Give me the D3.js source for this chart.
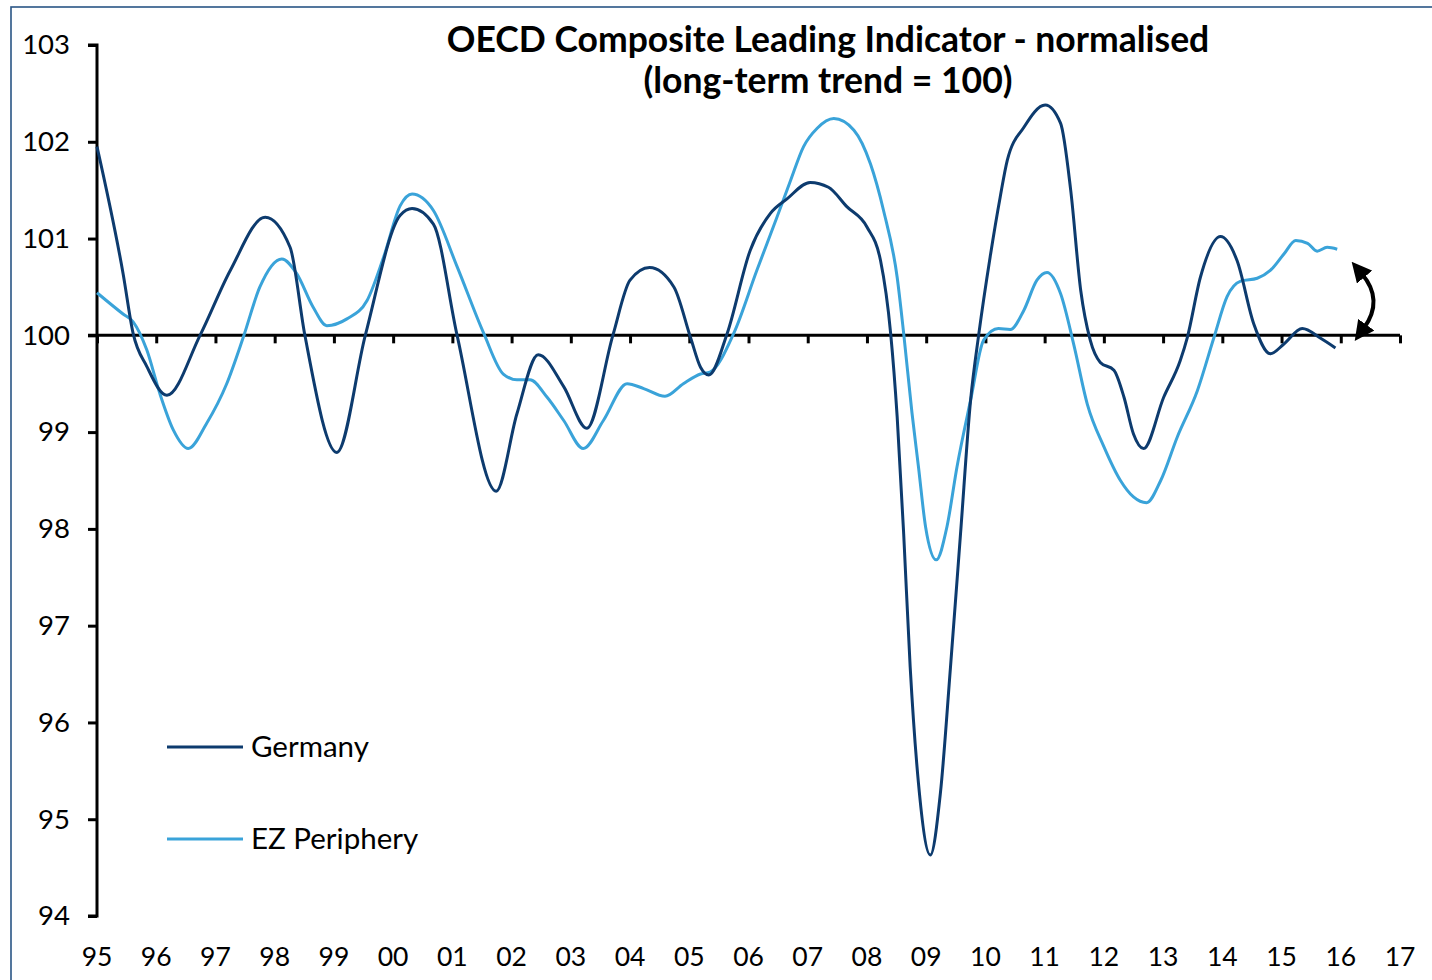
<!DOCTYPE html>
<html>
<head>
<meta charset="utf-8">
<script src="https://cdn.jsdelivr.net/npm/d3@7"></script>
<style>
  html, body { margin: 0; padding: 0; background: #fff; }
  svg { display: block; font-family: Lato, "Open Sans", sans-serif; }
</style>
</head>
<body>
<svg id="chart" width="1432" height="980"></svg>
<script>
// ---- Data (decimal years, index values) ----
const germanyDates = [1995.00,1995.44,1995.61,1995.84,1996.18,1996.74,1997.25,1997.84,1998.26,1998.51,1999.05,1999.53,2000.12,2000.32,2000.68,2001.08,2001.74,2002.09,2002.45,2002.88,2003.27,2003.71,2004.00,2004.33,2004.74,2005.02,2005.19,2005.33,2005.64,2006.03,2006.37,2006.65,2007.04,2007.35,2007.66,2008.00,2008.23,2008.40,2008.51,2008.62,2008.73,2008.87,2009.07,2009.24,2009.41,2009.58,2009.75,2009.89,2010.08,2010.25,2010.37,2010.65,2011.01,2011.27,2011.44,2011.61,2011.77,2011.94,2012.17,2012.34,2012.50,2012.67,2013.01,2013.29,2013.41,2013.63,2013.97,2014.25,2014.53,2014.81,2015.04,2015.35,2015.66,2015.91];
const germanyValues = [101.95,100.64,100.02,99.68,99.38,100.00,100.67,101.22,100.91,100.00,98.79,100.00,101.24,101.31,101.15,100.00,98.39,99.19,99.80,99.47,99.04,100.00,100.57,100.70,100.50,99.98,99.67,99.59,100.02,100.88,101.26,101.41,101.58,101.53,101.33,101.12,100.77,100.02,99.16,97.95,96.57,95.37,94.63,95.27,96.57,97.95,99.33,100.02,100.81,101.43,101.81,102.15,102.38,102.19,101.50,100.46,99.95,99.72,99.64,99.36,98.98,98.83,99.36,99.74,99.98,100.60,101.02,100.77,100.12,99.81,99.91,100.07,99.97,99.87];

const peripheryDates = [1995.00,1995.44,1995.61,1995.84,1996.06,1996.29,1996.54,1996.85,1997.19,1997.47,1997.75,1998.12,1998.37,1998.65,1998.88,1999.22,1999.56,1999.84,2000.12,2000.32,2000.68,2001.08,2001.53,2001.86,2002.09,2002.31,2002.60,2002.88,2003.21,2003.55,2003.95,2004.23,2004.59,2004.90,2005.19,2005.35,2005.75,2006.14,2006.48,2006.71,2006.93,2007.16,2007.44,2007.78,2008.06,2008.28,2008.51,2008.62,2008.76,2008.87,2008.99,2009.17,2009.35,2009.52,2009.75,2009.97,2010.22,2010.42,2010.65,2010.87,2011.04,2011.27,2011.49,2011.72,2012.00,2012.28,2012.50,2012.72,2012.96,2013.24,2013.58,2013.86,2014.08,2014.31,2014.59,2014.81,2015.04,2015.24,2015.44,2015.60,2015.77,2015.94];
const peripheryValues = [100.44,100.22,100.14,99.85,99.40,99.02,98.83,99.09,99.50,99.98,100.50,100.79,100.64,100.29,100.10,100.17,100.36,100.81,101.34,101.46,101.29,100.71,100.02,99.60,99.54,99.54,99.36,99.12,98.83,99.12,99.50,99.45,99.37,99.50,99.60,99.62,100.02,100.67,101.22,101.60,101.95,102.14,102.24,102.12,101.77,101.29,100.60,100.02,99.20,98.64,98.02,97.68,98.02,98.64,99.33,99.95,100.07,100.06,100.26,100.57,100.65,100.43,99.91,99.29,98.85,98.50,98.33,98.27,98.50,98.95,99.43,99.98,100.40,100.56,100.59,100.67,100.84,100.98,100.95,100.87,100.91,100.89];

const yTicks = [94, 95, 96, 97, 98, 99, 100, 101, 102, 103];
const xTickYears = d3.range(1995, 2018);
const xTickLabels = ["95","96","97","98","99","00","01","02","03","04","05","06","07","08","09","10","11","12","13","14","15","16","17"];
const seriesNames = ["Germany", "EZ Periphery"];
const seriesColors = ["#0d3b6e", "#3aa3d9"];
const titleLines = ["OECD Composite Leading Indicator - normalised", "(long-term trend = 100)"];

// ---- Scales ----
const svg = d3.select("#chart");
const x = d3.scaleLinear().domain([1995, 2017]).range([97, 1400]);
const y = d3.scaleLinear().domain([94, 103]).range([916, 45]);

// frame
svg.append("rect")
  .attr("x", 11).attr("y", 7).attr("width", 1440).attr("height", 1000)
  .attr("fill", "none").attr("stroke", "#2a5585").attr("stroke-width", 1.6);

// title
svg.append("text").attr("x", 828).attr("y", 52).attr("text-anchor", "middle")
  .attr("font-size", 35.5).attr("font-weight", 700).attr("fill", "#000").text(titleLines[0]);
svg.append("text").attr("x", 828).attr("y", 93).attr("text-anchor", "middle")
  .attr("font-size", 35.5).attr("font-weight", 700).attr("fill", "#000").text(titleLines[1]);

// y axis
const yAxis = d3.axisLeft(y).tickValues(yTicks).tickSize(9).tickPadding(18).tickFormat(d3.format("d"));
const gy = svg.append("g").attr("transform", "translate(97,0)").call(yAxis);
gy.select(".domain").attr("stroke", "#000").attr("stroke-width", 3).attr("d", "M-9,45H0V916H-9");
gy.selectAll(".tick line").attr("stroke", "#000").attr("stroke-width", 3);
gy.selectAll(".tick text").attr("font-size", 27.5).attr("fill", "#000").attr("font-family", "Lato, sans-serif");

// x axis at 100 line
const xAxis = d3.axisBottom(x).tickValues(xTickYears).tickSize(8).tickFormat(() => "");
const gx = svg.append("g").attr("transform", `translate(0,${y(100)})`).call(xAxis);
gx.select(".domain").attr("stroke", "#000").attr("stroke-width", 3).attr("d", `M88,0H${x(2017)}`);
gx.selectAll(".tick line").attr("stroke", "#000").attr("stroke-width", 3);

// x tick labels at bottom
svg.append("g").selectAll("text").data(xTickYears).join("text")
  .attr("x", d => x(d)).attr("y", 966).attr("text-anchor", "middle")
  .attr("font-size", 26.5).attr("fill", "#000")
  .text((d, i) => xTickLabels[i]);

// lines
const line = d3.line().x(d => x(d[0])).y(d => y(d[1])).curve(d3.curveMonotoneX);
const gData = d3.zip(germanyDates, germanyValues);
const pData = d3.zip(peripheryDates, peripheryValues);

svg.append("path").datum(pData).attr("d", line)
  .attr("fill", "none").attr("stroke", seriesColors[1]).attr("stroke-width", 3);
svg.append("path").datum(gData).attr("d", line)
  .attr("fill", "none").attr("stroke", seriesColors[0]).attr("stroke-width", 3);

// legend
const legendY = [747, 839];
seriesNames.forEach((name, i) => {
  svg.append("line").attr("x1", 167).attr("x2", 243).attr("y1", legendY[i]).attr("y2", legendY[i])
    .attr("stroke", seriesColors[i]).attr("stroke-width", 3);
  svg.append("text").attr("x", 251).attr("y", legendY[i] + 10).attr("font-size", 29.5)
    .attr("fill", "#000").text(name);
});

// double-headed curved arrow
const defs = svg.append("defs");
defs.append("marker").attr("id", "ah").attr("viewBox", "0 0 10 10")
  .attr("refX", 2).attr("refY", 5).attr("markerWidth", 5).attr("markerHeight", 5)
  .attr("markerUnits", "strokeWidth").attr("orient", "auto-start-reverse")
  .append("path").attr("d", "M0,0 L10,5 L0,10 Z").attr("fill", "#000");
svg.append("path")
  .attr("d", "M1362,274 Q1384,300 1364,328")
  .attr("fill", "none").attr("stroke", "#000").attr("stroke-width", 4)
  .attr("marker-start", "url(#ah)").attr("marker-end", "url(#ah)");
</script>
</body>
</html>
